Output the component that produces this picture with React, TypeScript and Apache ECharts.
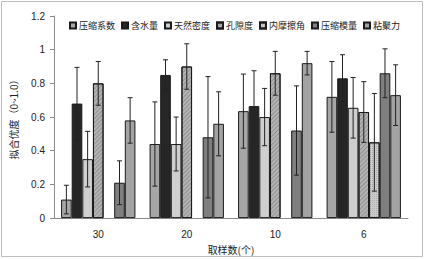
import React, { useEffect, useRef } from "react";
import * as echarts from "echarts";

const categories = ["30", "20", "10", "6"];
const seriesNames = ["压缩系数", "含水量", "天然密度", "孔隙度", "内摩擦角", "压缩模量", "粘聚力"];
const v_ysxs = [0.11, 0.44, 0.635, 0.72];
const v_hsl = [0.68, 0.85, 0.665, 0.83];
const v_trmd = [0.35, 0.44, 0.6, 0.655];
const v_kxd = [0.8, 0.9, 0.86, 0.63];
const v_nmcj = [null, null, null, 0.45];
const v_ysml = [0.21, 0.48, 0.52, 0.86];
const v_njl = [0.58, 0.56, 0.92, 0.73];
const e_ysxs = [0.085, 0.25, 0.22, 0.21];
const e_hsl = [0.215, 0.09, 0.21, 0.14];
const e_trmd = [0.165, 0.16, 0.17, 0.18];
const e_kxd = [0.13, 0.135, 0.13, 0.18];
const e_nmcj = [null, null, null, 0.29];
const e_ysml = [0.13, 0.36, 0.265, 0.145];
const e_njl = [0.135, 0.19, 0.07, 0.18];
const yTicks = { min: 0, max: 1.2, interval: 0.2 };

const values = [v_ysxs, v_hsl, v_trmd, v_kxd, v_nmcj, v_ysml, v_njl];
const errors = [e_ysxs, e_hsl, e_trmd, e_kxd, e_nmcj, e_ysml, e_njl];
const colors = ["#a6a6a6", "#262626", "#cfcfcf", "#b4b4b4", "#cdcdcd", "#7f7f7f", "#a3a3a3"];
const decals: any[] = [
  null,
  null,
  null,
  { symbol: "rect", symbolSize: 1, dashArrayX: [1, 0], dashArrayY: [1, 2], rotation: -Math.PI / 4, color: "rgba(60,60,60,0.3)" },
  { symbol: "rect", symbolSize: 1, dashArrayX: [1, 1], dashArrayY: [1, 1], rotation: 0, color: "rgba(90,90,90,0.3)" },
  null,
  null,
];
const CAT_GAP = 0.16;

export default function App() {
  const ref = useRef<HTMLDivElement>(null);
  useEffect(() => {
    if (!ref.current) return;
    const chart = echarts.init(ref.current, null, { renderer: "svg" });
    const n = seriesNames.length;
    const bars = seriesNames.map((name, i) => ({
      name,
      type: "bar",
      data: values[i],
      barGap: "0%",
      barCategoryGap: CAT_GAP * 100 + "%",
      itemStyle: {
        color: colors[i],
        borderColor: "#1a1a1a",
        borderWidth: 1,
        ...(decals[i] ? { decal: decals[i] } : {}),
      },
    }));
    const errs = seriesNames.map((name, i) => ({
      name: "err_" + name,
      type: "custom",
      z: 5,
      data: values[i]
        .map((v, k) => (v == null ? null : [k, v, errors[i][k]]))
        .filter((d) => d != null),
      renderItem: (params: any, api: any) => {
        const x = api.value(0);
        const v = api.value(1);
        const e = api.value(2);
        const catW = api.size([1, 0])[0];
        const bw = (catW * (1 - CAT_GAP)) / n;
        const off = (i - (n - 1) / 2) * bw;
        const hi = api.coord([x, v + e]);
        const lo = api.coord([x, v - e]);
        const cx = hi[0] + off;
        const cap = 2.5;
        const style = { stroke: "#222", lineWidth: 1 };
        return {
          type: "group",
          children: [
            { type: "line", shape: { x1: cx, y1: hi[1], x2: cx, y2: lo[1] }, style },
            { type: "line", shape: { x1: cx - cap, y1: hi[1], x2: cx + cap, y2: hi[1] }, style },
            { type: "line", shape: { x1: cx - cap, y1: lo[1], x2: cx + cap, y2: lo[1] }, style },
          ],
        };
      },
    }));
    chart.setOption({
      animation: false,
      backgroundColor: "#ffffff",
      graphic: [
        {
          type: "rect",
          shape: { x: 1.5, y: 1.5, width: 421, height: 255 },
          style: { fill: "none", stroke: "#bdbdbd", lineWidth: 1 },
          silent: true,
        },
      ],
      legend: {
        data: seriesNames,
        left: 64,
        top: 16,
        width: 360,
        itemWidth: 6,
        itemHeight: 6,
        itemGap: 6,
        icon: "rect",
        textStyle: { fontSize: 9, color: "#222", fontFamily: "Noto Sans CJK SC", padding: [0, 0, 0, -2] },
      },
      grid: { left: 50, right: 17, top: 16, bottom: 32 },
      xAxis: {
        type: "category",
        data: categories,
        name: "取样数(个)",
        nameLocation: "middle",
        nameGap: 21,
        nameTextStyle: { fontSize: 10, color: "#222", fontFamily: "Noto Sans CJK SC" },
        axisLine: { lineStyle: { color: "#8c8c8c" } },
        axisTick: { lineStyle: { color: "#8c8c8c" }, length: 4 },
        axisLabel: { fontSize: 10, color: "#222", margin: 11, fontFamily: "Liberation Sans" },
      },
      yAxis: {
        type: "value",
        min: yTicks.min,
        max: yTicks.max,
        interval: yTicks.interval,
        name: "拟合优度（0~1.0）",
        nameLocation: "middle",
        nameRotate: 90,
        nameGap: 36,
        nameTextStyle: { fontSize: 10, color: "#222", fontFamily: "Noto Sans CJK SC" },
        axisLine: { show: true, lineStyle: { color: "#8c8c8c" } },
        axisTick: { show: true, lineStyle: { color: "#8c8c8c" }, length: 4 },
        splitLine: { show: false },
        axisLabel: { fontSize: 10, color: "#222", margin: 9, fontFamily: "Liberation Sans" },
      },
      series: [...bars, ...errs],
    });
    return () => chart.dispose();
  }, []);
  return (
    <div
      ref={ref}
      style={{ position: "fixed", left: 0, top: 0, width: 425, height: 259 }}
    />
  );
}
